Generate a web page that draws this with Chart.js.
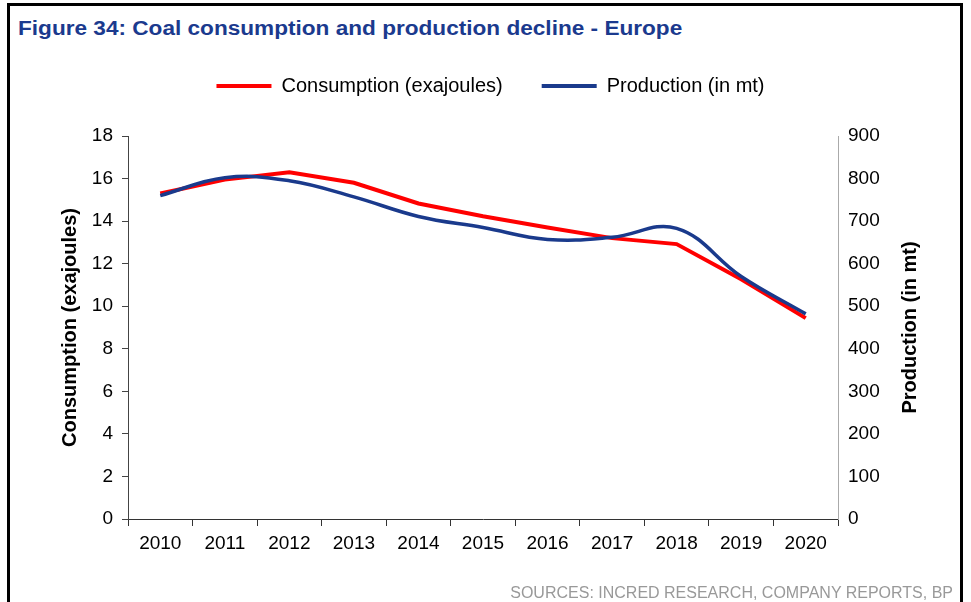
<!DOCTYPE html>
<html>
<head>
<meta charset="utf-8">
<script src="https://cdn.jsdelivr.net/npm/chart.js@4.4.0/dist/chart.umd.min.js"></script>
<style>
  body { margin: 0; background: #fff; font-family: "Liberation Sans", Arial, sans-serif; }
  #page { position: relative; width: 971px; height: 602px; overflow: hidden; }
  #frame { position: absolute; left: 7px; top: 3px; width: 950px; height: 640px; border: 3px solid #000; border-bottom: none; }
  #title { position: absolute; left: 18px; top: 18px; line-height: 20px; font-weight: bold; font-size: 20px; color: #1b3a8e; transform: scaleX(1.13); transform-origin: left top; white-space: nowrap; }
  #source { position: absolute; right: 18px; top: 585px; line-height: 16px; font-size: 16px; color: #999; white-space: nowrap; }
  #chart { position: absolute; left: 0; top: 0; }
</style>
</head>
<body>
<div id="page">
  <div id="frame"></div>
  <div id="title">Figure 34: Coal consumption and production decline - Europe</div>
  <canvas id="chart" width="971" height="602"></canvas>
  <div id="source">SOURCES: INCRED RESEARCH, COMPANY REPORTS, BP</div>
</div>
<script>
  const years = ["2010", "2011", "2012", "2013", "2014", "2015", "2016", "2017", "2018", "2019", "2020"];
  const consumption = [15.3, 15.95, 16.3, 15.8, 14.83, 14.23, 13.7, 13.2, 12.92, 11.27, 9.44];
  const production = [760, 802, 795, 757, 711, 685, 657, 662, 683, 570, 482];
  const rightTitle = "Production (in mt)";

  Chart.defaults.font.family = "'Liberation Sans', Arial, sans-serif";
  Chart.defaults.color = "#000";

  const tickFont = { size: 19 };
  const titleFont = { size: 20, weight: "bold" };

  // empty box under the legend, keeps the gap above the plot
  const legendGap = {
    id: "legendGap",
    beforeInit(chart) {
      Chart.layouts.addBox(chart, {
        position: "top",
        weight: 500,
        fullSize: true,
        options: {},
        left: 0, top: 0, right: 0, bottom: 0, width: 0, height: 0,
        isHorizontal() { return true; },
        update(maxWidth) { this.width = maxWidth; this.height = 30; },
        draw() {},
      });
    },
  };

  // right axis title reads bottom to top, like the left one
  const rightAxisTitle = {
    id: "rightAxisTitle",
    afterDraw(chart) {
      const s = chart.scales.y1;
      const c = chart.ctx;
      c.save();
      c.translate(s.right - 21, (s.top + s.bottom) / 2);
      c.rotate(-Math.PI / 2);
      c.font = "bold 20px 'Liberation Sans', Arial, sans-serif";
      c.fillStyle = "#000";
      c.textAlign = "center";
      c.textBaseline = "middle";
      c.fillText(rightTitle, 0, 0);
      c.restore();
    },
  };

  function createChart() {
    const ctx = document.getElementById("chart").getContext("2d");
    const myChart = new Chart(ctx, {
      type: "line",
      data: {
        labels: years,
        datasets: [
          {
            label: "Consumption (exajoules)",
            data: consumption,
            yAxisID: "y",
            borderColor: "#ff0000",
            backgroundColor: "#ff0000",
            borderWidth: 4,
            pointRadius: 0,
            tension: 0,
            order: 2,
          },
          {
            label: "Production (in mt)",
            data: production,
            yAxisID: "y1",
            borderColor: "#1a3a8c",
            backgroundColor: "#1a3a8c",
            borderWidth: 3.5,
            pointRadius: 0,
            tension: 0.4,
            order: 1,
          },
        ],
      },
      plugins: [legendGap, rightAxisTitle],
      options: {
        responsive: false,
        animation: false,
        devicePixelRatio: 1,
        layout: { padding: { top: 37, left: 50, right: 40, bottom: 43 } },
        plugins: {
          legend: {
            position: "top",
            labels: {
              boxWidth: 55,
              boxHeight: 4,
              padding: 39,
              font: { size: 20 },
              color: "#000",
              sort: (a, b) => a.datasetIndex - b.datasetIndex,
              generateLabels: (chart) =>
                Chart.defaults.plugins.legend.labels.generateLabels(chart).map((l) => ({ ...l, lineWidth: 0 })),
            },
          },
          tooltip: { enabled: false },
        },
        scales: {
          x: {
            type: "category",
            offset: true,
            grid: { offset: true, drawOnChartArea: false, tickLength: 7, tickColor: "#333" },
            border: { color: "#333" },
            ticks: { padding: 6, font: tickFont, color: "#000", maxRotation: 0, autoSkip: false },
            afterFit: (s) => { s.height = 40; },
          },
          y: {
            position: "left",
            min: 0,
            max: 18,
            ticks: { stepSize: 2, padding: 9, font: tickFont, color: "#000" },
            grid: { drawOnChartArea: false, tickLength: 6, tickColor: "#444" },
            border: { color: "#444" },
            title: { display: true, text: "Consumption (exajoules)", font: titleFont, color: "#000", padding: { top: 8, bottom: 0 } },
            afterFit: (s) => { s.width = 78; },
          },
          y1: {
            position: "right",
            min: 0,
            max: 900,
            ticks: { stepSize: 100, padding: 10, font: tickFont, color: "#000" },
            grid: { drawOnChartArea: false, drawTicks: false },
            border: { color: "#aaa" },
            afterFit: (s) => { s.width = 93; },
          },
        },
      },
    });
  }

  createChart();
</script>
</body>
</html>
